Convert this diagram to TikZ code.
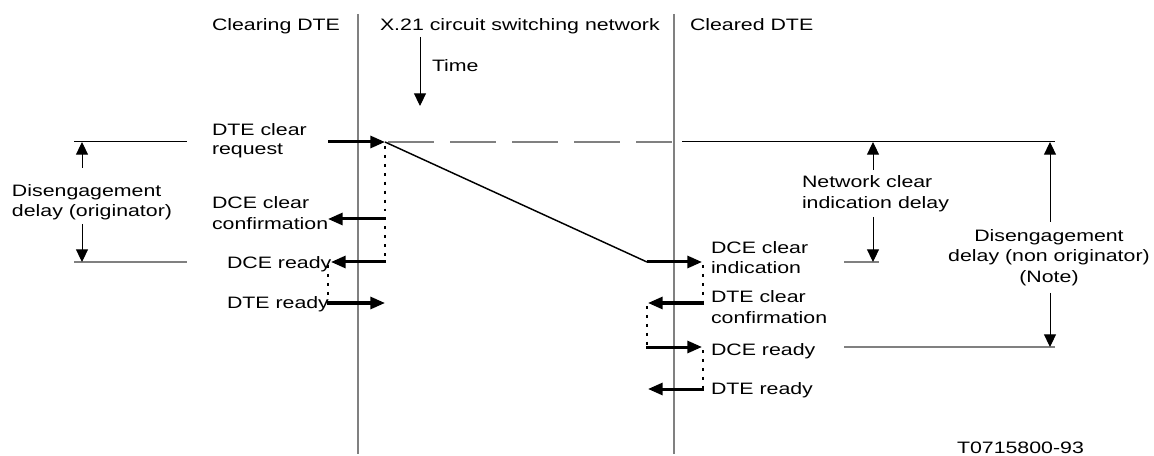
\documentclass[tikz,border=0pt]{standalone}
\usepackage{fontspec}
\setmainfont[FakeStretch=1.29]{Liberation Sans}
\usetikzlibrary{arrows.meta}
\definecolor{lifegray}{HTML}{808080}
\begin{document}
\begin{tikzpicture}[x=0.75pt,y=-0.75pt,
 every node/.style={inner sep=0pt, outer sep=0pt, font=\fontsize{12.4pt}{14.8pt}\selectfont},
 lbl/.style={anchor=base west},
 lblc/.style={anchor=base},
 life/.style={draw=lifegray, line width=1.5pt},
 msg/.style={line width=2.25pt, -{Triangle[length=11pt,width=9pt]}},
 dimarrow/.style={line width=0.75pt, -{Triangle[length=9.5pt,width=9pt]}},
 refline/.style={line width=0.75pt},
 refgray/.style={line width=1pt, draw=lifegray},
 dashref/.style={line width=0.9pt, draw=lifegray, dash pattern=on 34.5pt off 12pt},
 dots/.style={line width=1.7pt, dash pattern=on 2.2pt off 4.5pt},
]
\useasboundingbox (0,0) rectangle (1154,456);

% lifelines
\coordinate (L1t) at (358,14); \coordinate (L1b) at (358,454);
\coordinate (L2t) at (674,14); \coordinate (L2b) at (674,454);
\draw[life] (L1t) -- (L1b);
\draw[life] (L2t) -- (L2b);

% headers
\node[lbl] (hdrA) at (212,31) {Clearing DTE};
\node[lbl] (hdrB) at (380,31) {X.21 circuit switching network};
\node[lbl] (hdrC) at (690,31) {Cleared DTE};
\coordinate (ta) at (420,37); \coordinate (tb) at (420,106);
\draw[dimarrow] (ta) -- (tb);
\node[lbl] (time) at (432,72) {Time};

% reference lines
\coordinate (r0a) at (74,142); \coordinate (r0b) at (187,142);
\coordinate (dA) at (388,142); \coordinate (dB) at (672,142);
\coordinate (rRa) at (682,142); \coordinate (rRb) at (1055,142);
\coordinate (b1a) at (74,262); \coordinate (b1b) at (187,262);
\coordinate (b2a) at (844,262); \coordinate (b2b) at (879,262);
\coordinate (b3a) at (844,347); \coordinate (b3b) at (1055,347);
\draw[refline] (r0a) -- (r0b);
\draw[dashref] (dA) -- (dB);
\draw[refline] (rRa) -- (rRb);
\draw[refgray] (b1a) -- (b1b);
\draw[refgray] (b2a) -- (b2b);
\draw[refgray] (b3a) -- (b3b);

% left dimension
\node[lbl] (dl1) at (12,197) {Disengagement};
\node[lbl] (dl2) at (12,217) {delay (originator)};
\coordinate (dlu) at (82,168); \coordinate (dlt) at (82,142);
\coordinate (dld) at (82,224); \coordinate (dlb) at (82,262);
\draw[dimarrow] (dlu) -- (dlt);
\draw[dimarrow] (dld) -- (dlb);

% network clear indication delay
\node[lbl] (nc1) at (802,188) {Network clear};
\node[lbl] (nc2) at (802,209) {indication delay};
\coordinate (ncu) at (873,170); \coordinate (nct) at (873,142);
\coordinate (ncd) at (873,217); \coordinate (ncb) at (873,262);
\draw[dimarrow] (ncu) -- (nct);
\draw[dimarrow] (ncd) -- (ncb);

% disengagement delay non originator
\node[lblc] (dn1) at (1049,242) {Disengagement};
\node[lblc] (dn2) at (1049,262) {delay (non originator)};
\node[lblc] (dn3) at (1049,282) {(Note)};
\coordinate (dnu) at (1050,222); \coordinate (dnt) at (1050,142);
\coordinate (dnd) at (1050,293); \coordinate (dnb) at (1050,347);
\draw[dimarrow] (dnu) -- (dnt);
\draw[dimarrow] (dnd) -- (dnb);

% left messages
\node[lbl] (m1a) at (212,136) {DTE clear};
\node[lbl] (m1b) at (212,155) {request};
\coordinate (a1s) at (328,142); \coordinate (a1e) at (385,142);
\draw[msg] (a1s) -- (a1e);
\coordinate (d1s) at (385,146); \coordinate (d1e) at (385,262);
\draw[dots] (d1s) -- (d1e);

\node[lbl] (m2a) at (212,209) {DCE clear};
\node[lbl] (m2b) at (212,230) {confirmation};
\coordinate (a2s) at (385,219); \coordinate (a2e) at (328,219);
\draw[msg] (a2s) -- (a2e);

\node[lbl] (m3) at (227,268) {DCE ready};
\coordinate (a3s) at (386,262); \coordinate (a3e) at (331,262);
\draw[msg] (a3s) -- (a3e);
\coordinate (d2s) at (328,265); \coordinate (d2e) at (328,303);
\draw[dots] (d2s) -- (d2e);

\node[lbl] (m4) at (227,308) {DTE ready};
\coordinate (a4s) at (327,303); \coordinate (a4e) at (385,303);
\draw[msg] (a4s) -- (a4e);

% network transit
\coordinate (nA) at (385,142); \coordinate (nB) at (647,262);
\draw[line width=1.1pt] (nA) -- (nB);

% right messages
\coordinate (a5e) at (702,262);
\draw[msg] (nB) -- (a5e);
\node[lbl] (m5a) at (711,253) {DCE clear};
\node[lbl] (m5b) at (711,273) {indication};
\coordinate (d3s) at (703,265); \coordinate (d3e) at (703,303);
\draw[dots] (d3s) -- (d3e);

\node[lbl] (m6a) at (711,302) {DTE clear};
\node[lbl] (m6b) at (711,323) {confirmation};
\coordinate (a6s) at (704,303); \coordinate (a6e) at (648,303);
\draw[msg] (a6s) -- (a6e);
\coordinate (d4s) at (647,306); \coordinate (d4e) at (647,347);
\draw[dots] (d4s) -- (d4e);

\node[lbl] (m7) at (711,355) {DCE ready};
\coordinate (a7s) at (646,347); \coordinate (a7e) at (702,347);
\draw[msg] (a7s) -- (a7e);
\coordinate (d5s) at (703,350); \coordinate (d5e) at (703,389);
\draw[dots] (d5s) -- (d5e);

\node[lbl] (m8) at (711,394) {DTE ready};
\coordinate (a8s) at (704,389); \coordinate (a8e) at (648,389);
\draw[msg] (a8s) -- (a8e);

% figure id
\node[lbl] (fid) at (957,453) {T0715800-93};
\end{tikzpicture}
\end{document}
